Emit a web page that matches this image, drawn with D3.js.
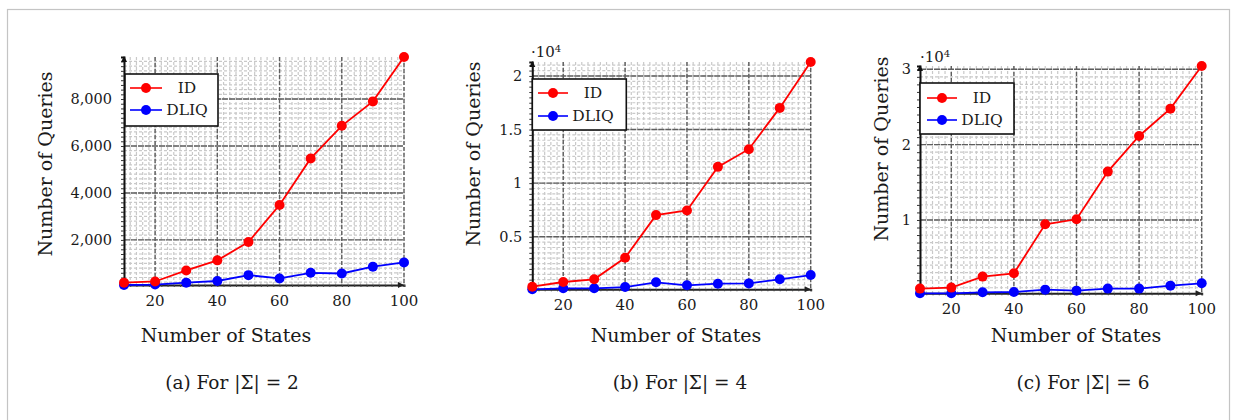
<!DOCTYPE html>
<html>
<head>
<meta charset="utf-8">
<script src="https://cdn.jsdelivr.net/npm/d3@7"></script>
<style>
  html, body { margin: 0; padding: 0; background: #fff; }
  svg { display: block; }
  text { font-family: "DejaVu Serif", "Liberation Serif", serif; fill: #1a1a1a; }
</style>
</head>
<body>
<svg id="chart" width="1237" height="420"></svg>
<script>
// ---- data ----
const states = [10, 20, 30, 40, 50, 60, 70, 80, 90, 100];
const seriesNames = ["ID", "DLIQ"];
const idA   = [180, 230, 700, 1130, 1910, 3490, 5470, 6860, 7900, 9790];
const dliqA = [80, 100, 180, 250, 500, 360, 600, 570, 860, 1040];
const idB   = [340, 780, 1030, 3040, 7020, 7450, 11520, 13170, 17020, 21300];
const dliqB = [100, 190, 190, 310, 750, 470, 620, 650, 1030, 1430];
const idC   = [890, 1020, 2480, 2920, 9420, 10090, 16420, 21150, 24780, 30440];
const dliqC = [265, 265, 400, 440, 750, 620, 890, 890, 1280, 1590];
const xTicks = [20, 40, 60, 80, 100];
const yTicksA = [2000, 4000, 6000, 8000];
const yTicksB = [5000, 10000, 15000, 20000];
const yTicksC = [10000, 20000, 30000];
const yTickLabelsA = ["2,000", "4,000", "6,000", "8,000"];
const yTickLabelsB = ["0.5", "1", "1.5", "2"];
const yTickLabelsC = ["1", "2", "3"];
const captions = ["(a) For |Σ| = 2", "(b) For |Σ| = 4", "(c) For |Σ| = 6"];
const xLabel = "Number of States";
const yLabel = "Number of Queries";

// ---- layout ----
const colors = ["#ff0000", "#0000ff"];
const panels = [
  { id: idA, dliq: dliqA, yTicks: yTicksA, yLabels: yTickLabelsA, yMinorStep: 200,
    left: 124, right: 404, top: 57, bottom: 285, gap: 12, scaleNote: null,
    ylab: [45, 164], xlabY: 342, capX: 232, xlabX: 226,
    legend: { x: 125, y: 74, w: 93, h: 52, r1: 88, r2: 110, lx0: 130, lx1: 162, tx: 187 } },
  { id: idB, dliq: dliqB, yTicks: yTicksB, yLabels: yTickLabelsB, yMinorStep: 500,
    left: 532.3, right: 810.7, top: 62, bottom: 289.3, gap: 10, scaleNote: [531, 57],
    ylab: [473, 154], xlabY: 342, capX: 680, xlabX: 676,
    legend: { x: 532.3, y: 79, w: 94, h: 51, r1: 93, r2: 116, lx0: 538, lx1: 568, tx: 593 } },
  { id: idC, dliq: dliqC, yTicks: yTicksC, yLabels: yTickLabelsC, yMinorStep: 1000,
    left: 920, right: 1201.7, top: 66, bottom: 293.3, gap: 9, scaleNote: [920, 62],
    ylab: [881, 149], xlabY: 342, capX: 1083, xlabX: 1076,
    legend: { x: 920, y: 83, w: 94, h: 51, r1: 98, r2: 120, lx0: 927, lx1: 957, tx: 982 } }
];

const svg = d3.select("#chart");

// outer frame
svg.append("rect").attr("x", 7.5).attr("y", 9.5).attr("width", 1222).attr("height", 430)
  .attr("fill", "none").attr("stroke", "#c4c4c4").attr("stroke-width", 1.2);

panels.forEach((p, pi) => {
  const g = svg.append("g");
  const allVals = p.id.concat(p.dliq);
  const x = d3.scaleLinear().domain(d3.extent(states)).range([p.left, p.right]);
  const y = d3.scaleLinear().domain(d3.extent(allVals)).range([p.bottom, p.top]);

  // minor grid
  const xMinor = d3.range(10, 100.01, 2);
  const yMinor = d3.range(0, y.domain()[1] + 1, p.yMinorStep).filter(v => v >= y.domain()[0]);
  g.append("g").selectAll("line").data(xMinor).join("line")
    .attr("x1", d => x(d)).attr("x2", d => x(d)).attr("y1", p.top).attr("y2", p.bottom)
    .attr("stroke", "#c9c9c9").attr("stroke-width", 1.2).attr("stroke-dasharray", "3,2");
  g.append("g").selectAll("line").data(yMinor).join("line")
    .attr("x1", p.left).attr("x2", p.right).attr("y1", d => y(d)).attr("y2", d => y(d))
    .attr("stroke", "#c9c9c9").attr("stroke-width", 1.2).attr("stroke-dasharray", "3,2");

  // major grid
  g.append("g").selectAll("line").data(xTicks).join("line")
    .attr("x1", d => x(d)).attr("x2", d => x(d)).attr("y1", p.top).attr("y2", p.bottom)
    .attr("stroke", "#5e5e5e").attr("stroke-width", 1.4).attr("stroke-dasharray", "4,2");
  g.append("g").selectAll("line").data(p.yTicks).join("line")
    .attr("x1", p.left).attr("x2", p.right).attr("y1", d => y(d)).attr("y2", d => y(d))
    .attr("stroke", "#5e5e5e").attr("stroke-width", 1.4).attr("stroke-dasharray", "6,1");

  // axes (left & bottom) via d3 axis
  const yAxis = d3.axisLeft(y).tickValues(yMinor).tickSize(3).tickFormat("");
  const ya = g.append("g").attr("transform", `translate(${p.left},0)`).call(yAxis);
  ya.select(".domain").attr("stroke", "#111").attr("stroke-width", 2);
  ya.selectAll(".tick line").attr("stroke", "#333").attr("stroke-width", 1);
  const xAxis = d3.axisBottom(x).tickValues(xMinor).tickSize(2).tickFormat("");
  const xa = g.append("g").attr("transform", `translate(0,${p.bottom})`).call(xAxis);
  xa.select(".domain").attr("stroke", "#222").attr("stroke-width", 2);
  xa.selectAll(".tick line").attr("stroke", "#444").attr("stroke-width", 1);
  // arrowheads
  g.append("path").attr("d", `M${p.right - 6},${p.bottom - 3} L${p.right},${p.bottom} L${p.right - 6},${p.bottom + 3}Z`).attr("fill", "#222");
  g.append("path").attr("d", `M${p.left - 3},${p.top + 5} L${p.left},${p.top - 1} L${p.left + 3},${p.top + 5}Z`).attr("fill", "#111");

  // tick labels
  g.append("g").selectAll("text").data(xTicks).join("text")
    .attr("x", d => x(d)).attr("y", p.bottom + 21).attr("text-anchor", "middle")
    .attr("font-size", 15).text(d => d);
  g.append("g").selectAll("text").data(p.yTicks).join("text")
    .attr("x", p.left - p.gap).attr("y", d => y(d)).attr("dy", "0.35em").attr("text-anchor", "end")
    .attr("font-size", 14.5).text((d, i) => p.yLabels[i]);

  if (p.scaleNote) {
    const t = g.append("text").attr("x", p.scaleNote[0]).attr("y", p.scaleNote[1]).attr("font-size", 15);
    t.append("tspan").text("·10");
    t.append("tspan").attr("font-size", 10).attr("dy", -5).text("4");
  }

  // axis labels
  g.append("text").attr("transform", `translate(${p.ylab[0]},${p.ylab[1]}) rotate(-90)`)
    .attr("text-anchor", "middle").attr("dy", "0.35em").attr("font-size", 19).text(yLabel);
  g.append("text").attr("x", p.xlabX).attr("y", p.xlabY).attr("text-anchor", "middle")
    .attr("font-size", 19).text(xLabel);
  g.append("text").attr("x", p.capX).attr("y", 389).attr("text-anchor", "middle")
    .attr("font-size", 18.5).text(captions[pi]);

  // series
  const line = d3.line().x((d, i) => x(states[i])).y(d => y(d));
  [p.dliq, p.id].forEach((vals, k) => {
    const col = k === 0 ? colors[1] : colors[0];
    g.append("path").datum(vals).attr("d", line).attr("fill", "none")
      .attr("stroke", col).attr("stroke-width", 1.8);
    g.append("g").selectAll("circle").data(vals).join("circle")
      .attr("cx", (d, i) => x(states[i])).attr("cy", d => y(d)).attr("r", 5).attr("fill", col);
  });

  // legend
  const L = p.legend;
  const lg = g.append("g");
  lg.append("rect").attr("x", L.x).attr("y", L.y).attr("width", L.w).attr("height", L.h)
    .attr("fill", "#fff").attr("stroke", "#111").attr("stroke-width", 1.6);
  [L.r1, L.r2].forEach((ry, k) => {
    lg.append("line").attr("x1", L.lx0).attr("x2", L.lx1).attr("y1", ry).attr("y2", ry)
      .attr("stroke", colors[k]).attr("stroke-width", 1.6);
    lg.append("circle").attr("cx", (L.lx0 + L.lx1) / 2).attr("cy", ry).attr("r", 5).attr("fill", colors[k]);
    lg.append("text").attr("x", L.tx).attr("y", ry).attr("dy", "0.35em").attr("text-anchor", "middle")
      .attr("font-size", 15.5).text(seriesNames[k]);
  });
});
</script>
</body>
</html>
